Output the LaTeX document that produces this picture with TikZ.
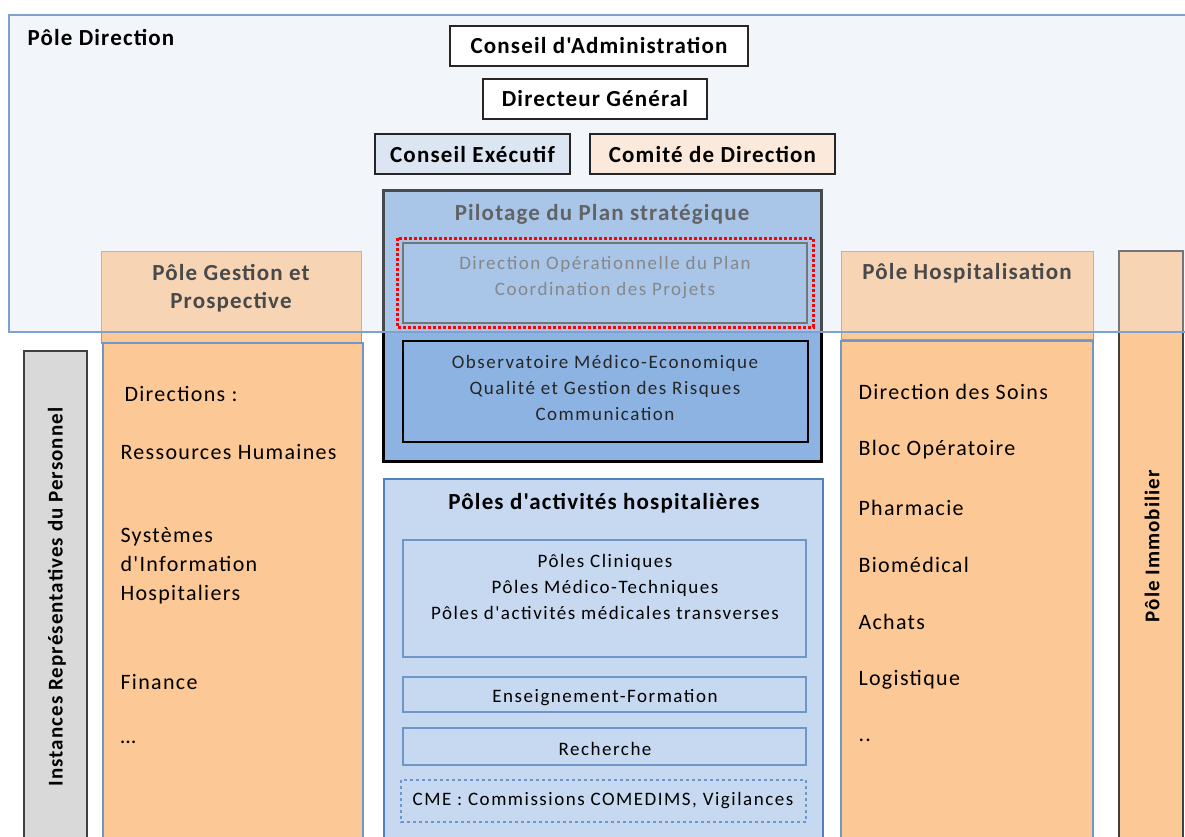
\documentclass[tikz,border=0pt]{standalone}
\usepackage{fontspec}
\setmainfont{Carlito}
\newfontfamily\titrefont{Carlito}[LetterSpace=5]
\newfontfamily\listefont{Carlito}[LetterSpace=6]
\newfontfamily\petitfont{Carlito}[LetterSpace=8]
\usepackage{tikz}
\usetikzlibrary{positioning}
\usepackage{xcolor}

\definecolor{dirfill}{RGB}{245,249,252}
\definecolor{dirline}{RGB}{126,161,208}
\definecolor{voile}{RGB}{236,242,249}
\definecolor{orangefill}{RGB}{252,200,150}
\definecolor{grisfill}{RGB}{217,217,217}
\definecolor{pilotfill}{RGB}{141,179,226}
\definecolor{actfill}{RGB}{198,217,241}
\definecolor{actline}{RGB}{79,129,189}
\definecolor{innerline}{RGB}{111,150,201}
\definecolor{cefill}{RGB}{220,230,242}
\definecolor{cdfill}{RGB}{251,234,219}
\definecolor{traitfonce}{RGB}{64,64,64}

\tikzset{
  titre/.style={font=\titrefont\fontsize{23}{28}\selectfont\bfseries, align=center},
  vertical/.style={font=\titrefont\fontsize{21}{24}\selectfont\bfseries, rotate=90},
  liste/.style={font=\listefont\fontsize{22}{29}\selectfont, anchor=west, align=left},
  petit/.style={font=\petitfont\fontsize{19}{26}\selectfont, align=center},
  haut/.style={draw=black!85, line width=1.3pt, font=\titrefont\fontsize{23}{24}\selectfont\bfseries,
    inner sep=0pt, minimum height=40pt}
}

\begin{document}
\begin{tikzpicture}[x=1pt,y=-1pt]
    \useasboundingbox (0,0) rectangle (1185,837);
    \clip (0,0) rectangle (1185,837);

    % fond du Pôle Direction
    \fill[dirfill] (9,15) rectangle (1195,332);

    % Instances représentatives
    \draw[fill=grisfill, draw=traitfonce, line width=1.5pt] (24,351) rectangle (87,850);
    \node[vertical] (irp) at (57,597) {Instances Représentatives du Personnel};

    % Pôle Gestion et Prospective
    \draw[fill=orangefill, draw=dirline, line width=1pt] (101,251) rectangle (361,343);
    \draw[fill=orangefill, draw=innerline, line width=1.2pt] (103,343) rectangle (363,850);
    \node[titre] (gestion) at (231,288) {Pôle Gestion et\\Prospective};
    \node[liste] (dirs) at (121,394) {Directions :};
    \node[liste] (rh) at (117,452) {Ressources Humaines};
    \node[liste] (sih) at (117,566) {Systèmes\\d'Information\\Hospitaliers};
    \node[liste] (fin) at (117,682) {Finance};
    \node[liste] (etc1) at (117,742) {\dots};

    % Pôle Hospitalisation
    \draw[fill=orangefill, draw=dirline, line width=1pt] (841,251) rectangle (1093,339);
    \draw[fill=orangefill, draw=innerline, line width=1.2pt] (841,341) rectangle (1093,850);
    \node[titre] (hospit) at (967,273) {Pôle Hospitalisation};
    \node[liste] (soins) at (855,392) {Direction des Soins};
    \node[liste] (bloc) at (855,450) {Bloc Opératoire};
    \node[liste] (pharma) at (855,508) {Pharmacie};
    \node[liste] (biomed) at (855,565) {Biomédical};
    \node[liste] (achats) at (855,622) {Achats};
    \node[liste] (logist) at (855,680) {Logistique};
    \node[liste] (etc2) at (855,740) {..};

    % Pôle Immobilier
    \draw[fill=orangefill, draw=traitfonce, line width=1.5pt] (1119,251) rectangle (1183,850);
    \node[vertical] (immo) at (1152,546) {Pôle Immobilier};

    % Pilotage du Plan stratégique
    \draw[fill=pilotfill, draw=black, line width=3pt] (383,191) rectangle (821,461);
    \node[titre, text=black!85] (pilot) at (602,214) {Pilotage du Plan stratégique};
    \draw[draw=traitfonce, line width=1.5pt] (403,243) rectangle (807,323);
    \node[petit, text=black!65] (dop) at (605,278) {Direction Opérationnelle du Plan\\Coordination des Projets};
    \draw[draw=black, line width=1.5pt] (403,341) rectangle (808,442);
    \node[petit, text=black!85] (obs) at (605,388) {Observatoire Médico-Economique\\Qualité et Gestion des Risques\\Communication};

    % Pôles d'activités hospitalières
    \draw[fill=actfill, draw=actline, line width=2pt] (384,479) rectangle (823,850);
    \node[titre] (poles) at (604,503) {Pôles d'activités hospitalières};
    \draw[innerline, line width=1.2pt] (403,540) rectangle (806,657);
    \node[petit] (cliniq) at (605,587) {Pôles Cliniques\\Pôles Médico-Techniques\\Pôles d'activités médicales transverses};
    \draw[innerline, line width=1.2pt] (403,677) rectangle (806,712);
    \node[petit] (ens) at (605,698) {Enseignement-Formation};
    \draw[innerline, line width=1.2pt] (403,728) rectangle (806,765);
    \node[petit] (rech) at (605,749) {Recherche};
    \draw[innerline, line width=1.2pt, dashed] (401,780) rectangle (806,822);
    \node[petit] (cme) at (603,801) {CME : Commissions COMEDIMS, Vigilances};

    % voile du Pôle Direction
    \fill[voile, fill opacity=0.3] (9,15) rectangle (1195,332);
    \draw[red, line width=3pt, dotted] (397,238) rectangle (813,327);

    % instances de direction
    \node[haut, fill=white, minimum width=298pt] (ca) at (599,46) {Conseil d'Administration};
    \node[haut, fill=white, minimum width=224pt] (dg) at (595,99) {Directeur Général};
    \node[haut, fill=cefill, minimum width=195pt] (ce) at (472.5,154) {Conseil Exécutif};
    \node[haut, fill=cdfill, minimum width=245pt] (cd) at (712.5,154) {Comité de Direction};

    \node[titre, anchor=west] (pdir) at (24,38) {Pôle Direction};
    \draw[dirline, line width=1.5pt] (9,15) rectangle (1195,332);
\end{tikzpicture}
\end{document}
